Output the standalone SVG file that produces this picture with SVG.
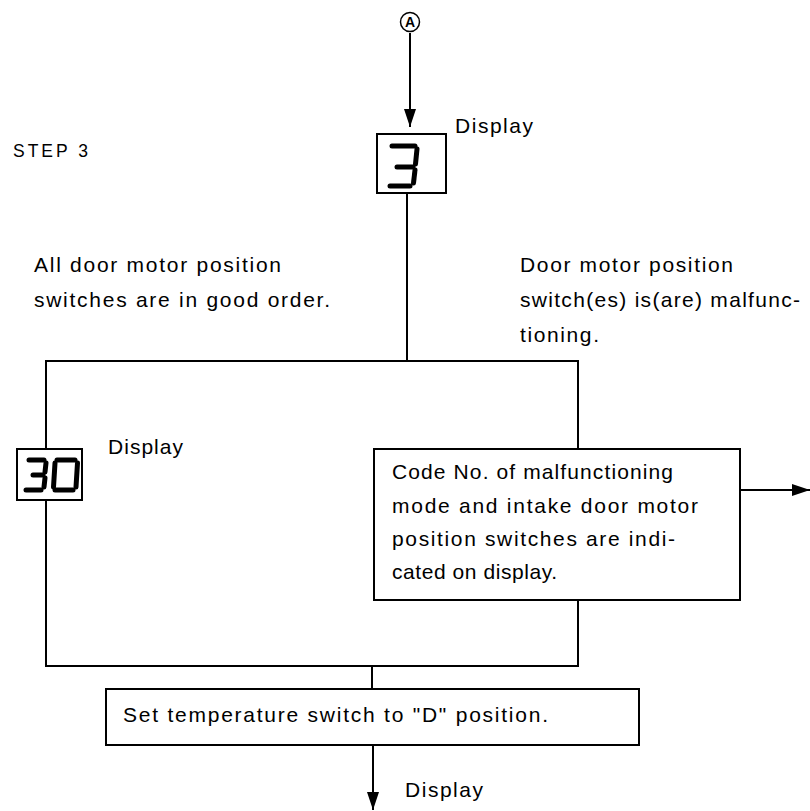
<svg xmlns="http://www.w3.org/2000/svg" width="810" height="811" viewBox="0 0 810 811">
<defs>
<style>
.t{font-family:"Liberation Sans",Arial,sans-serif;font-size:21px;fill:#000;}
.ln{stroke:#000;stroke-width:2;fill:none;}
.box{stroke:#000;stroke-width:2;fill:#fff;}
.seg{stroke:#000;stroke-width:5;fill:none;stroke-linecap:round;}
</style>
<marker id="ah" markerWidth="18" markerHeight="12" refX="18" refY="6" viewBox="0 0 18 12" orient="auto" markerUnits="userSpaceOnUse">
<path d="M0,0 L18,6 L0,12 Z" fill="#000"/>
</marker>
</defs>
<rect width="810" height="811" fill="#fff"/>

<g id="connectors">
<line class="ln" x1="410" y1="33" x2="410" y2="127" marker-end="url(#ah)"/>
<line class="ln" x1="407" y1="193" x2="407" y2="361"/>
<polyline class="ln" points="46,449 46,361 578,361 578,449"/>
<polyline class="ln" points="46,500 46,666 578,666 578,600"/>
<line class="ln" x1="372" y1="666" x2="372" y2="689"/>
<line class="ln" x1="373" y1="745" x2="373" y2="810" marker-end="url(#ah)"/>
<line class="ln" x1="740" y1="490" x2="810" y2="490" marker-end="url(#ah)"/>
</g>

<g id="nodeA">
<circle cx="410" cy="22" r="9.5" fill="#fff" stroke="#000" stroke-width="1.5"/>
<text x="410" y="27" text-anchor="middle" style="font-family:'Liberation Sans',Arial,sans-serif;font-size:14px;font-weight:bold;">A</text>
</g>

<g id="step">
<text class="t" x="13" y="157" textLength="75" lengthAdjust="spacing" style="font-size:17.5px">STEP 3</text>
</g>

<g id="display3">
<rect class="box" x="377" y="134" width="69" height="59"/>
<line class="seg" x1="392" y1="146" x2="415" y2="146"/>
<line class="seg" x1="397" y1="167" x2="413" y2="167"/>
<line class="seg" x1="390" y1="186" x2="410" y2="186"/>
<line class="seg" x1="417" y1="149" x2="415.5" y2="164"/>
<line class="seg" x1="415" y1="170" x2="413.5" y2="183"/>
<text class="t" x="455" y="133" textLength="78" lengthAdjust="spacing">Display</text>
</g>

<g id="labelGood">
<text class="t" x="34" y="272" textLength="247" lengthAdjust="spacing">All door motor position</text>
<text class="t" x="34" y="307" textLength="296" lengthAdjust="spacing">switches are in good order.</text>
</g>

<g id="labelBad">
<text class="t" x="520" y="272" textLength="213" lengthAdjust="spacing">Door motor position</text>
<text class="t" x="520" y="307" textLength="280" lengthAdjust="spacing">switch(es) is(are) malfunc-</text>
<text class="t" x="520" y="342" textLength="79" lengthAdjust="spacing">tioning.</text>
</g>

<g id="display30">
<rect class="box" x="17" y="449" width="65" height="51"/>
<line class="seg" x1="29" y1="460" x2="44" y2="460"/>
<line class="seg" x1="33" y1="475" x2="43" y2="475"/>
<line class="seg" x1="26" y1="490" x2="41" y2="490"/>
<line class="seg" x1="46" y1="463" x2="45" y2="472"/>
<line class="seg" x1="45" y1="478" x2="44" y2="487"/>
<line class="seg" x1="57" y1="460" x2="75" y2="460"/>
<line class="seg" x1="55" y1="490" x2="73" y2="490"/>
<line class="seg" x1="55" y1="463" x2="53.5" y2="487"/>
<line class="seg" x1="77.5" y1="463" x2="76" y2="487"/>
<text class="t" x="108" y="454" textLength="75" lengthAdjust="spacing">Display</text>
</g>

<g id="codeBox">
<rect class="box" x="374" y="449" width="366" height="151"/>
<text class="t" x="392" y="479" textLength="281" lengthAdjust="spacing">Code No. of malfunctioning</text>
<text class="t" x="392" y="513" textLength="306" lengthAdjust="spacing">mode and intake door motor</text>
<text class="t" x="392" y="546" textLength="283" lengthAdjust="spacing">position switches are indi-</text>
<text class="t" x="392" y="579" textLength="165" lengthAdjust="spacing">cated on display.</text>
</g>

<g id="setBox">
<rect class="box" x="106" y="689" width="533" height="56"/>
<text class="t" x="123" y="722" textLength="425" lengthAdjust="spacing">Set temperature switch to &quot;D&quot; position.</text>
</g>

<g id="displayBottom">
<text class="t" x="405" y="797" textLength="78" lengthAdjust="spacing">Display</text>
</g>
</svg>
